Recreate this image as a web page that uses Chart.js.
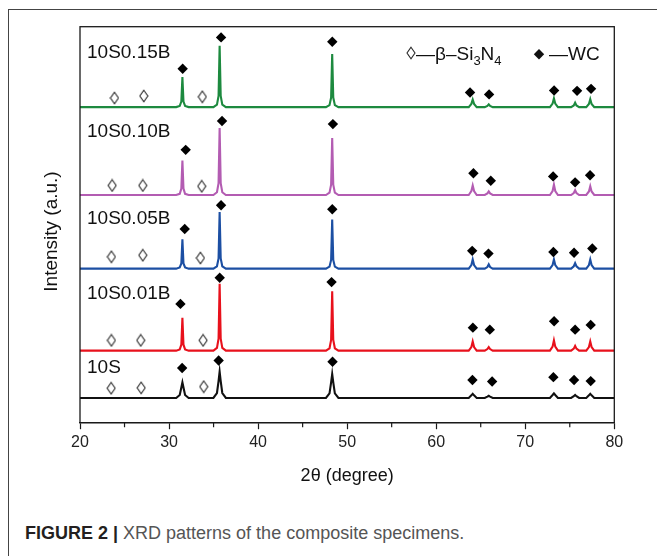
<!DOCTYPE html>
<html>
<head>
<meta charset="utf-8">
<script src="https://cdn.jsdelivr.net/npm/chart.js@4/dist/chart.umd.min.js"></script>
<style>
  html, body { margin: 0; padding: 0; background: #fff; overflow: hidden; width: 657px; height: 556px; }
  #frame { position: absolute; left: 8px; top: 9px; width: 800px; height: 700px; border: 1px solid #444; box-sizing: border-box; }
  #wrap { position: absolute; left: 0; top: 0; width: 657px; height: 500px; }
  #caption { position: absolute; left: 25px; top: 522px; font: 18px "Liberation Sans", Arial, sans-serif; line-height: 22px; color: #555; white-space: nowrap; }
  #caption b { color: #231f20; }
</style>
</head>
<body>
<div id="frame"></div>
<div id="wrap"><canvas id="c" width="657" height="500"></canvas></div>
<div id="caption"><b>FIGURE 2 |</b> XRD patterns of the composite specimens.</div>
<script>
// ---- data ----
const seriesNames = ["10S0.15B", "10S0.10B", "10S0.05B", "10S0.01B", "10S"];
const xTicks = [20, 30, 40, 50, 60, 70, 80];
const xMinorTicks = [25, 35, 45, 55, 65, 75];

// shared 2θ sampling (degree)
const twoTheta = [
  20,
  30.8, 31.2, 31.38, 31.5, 31.62, 31.8, 32.2,
  34.98, 35.38, 35.56, 35.68, 35.8, 35.98, 36.38,
  47.62, 48.02, 48.2, 48.32, 48.44, 48.62, 49.02,
  63.65, 63.95, 64.1, 64.25, 64.55,
  65.45, 65.75, 65.9, 66.05, 66.35,
  72.77, 73.07, 73.22, 73.37, 73.67,
  75.15, 75.45, 75.6, 75.75, 76.05,
  76.85, 77.15, 77.3, 77.45, 77.75,
  80
];

// intensities (a.u., stacked with offsets as drawn)
const int_10S015B = [
  79.7,
  79.7, 80.0, 81.1, 87.3, 81.1, 80.0, 79.7,
  79.7, 80.3, 82.5, 95.2, 82.5, 80.3, 79.7,
  79.7, 80.2, 82.1, 93.1, 82.1, 80.2, 79.7,
  79.7, 80.5, 81.6, 80.5, 79.7,
  79.7, 80.0, 80.4, 80.0, 79.7,
  79.7, 80.6, 81.9, 80.6, 79.7,
  79.7, 80.1, 80.8, 80.1, 79.7,
  79.7, 80.5, 81.7, 80.5, 79.7,
  79.7
];
const int_10S010B = [
  57.5,
  57.5, 57.8, 59.1, 66.2, 59.1, 57.8, 57.5,
  57.5, 58.2, 60.5, 74.4, 60.5, 58.2, 57.5,
  57.5, 58.1, 60.1, 71.9, 60.1, 58.1, 57.5,
  57.5, 58.5, 59.9, 58.5, 57.5,
  57.5, 57.9, 58.4, 57.9, 57.5,
  57.5, 58.5, 60.1, 58.5, 57.5,
  57.5, 58.0, 58.7, 58.0, 57.5,
  57.5, 58.4, 59.7, 58.4, 57.5,
  57.5
];
const int_10S005B = [
  38.9,
  38.9, 39.2, 40.2, 46.3, 40.2, 39.2, 38.9,
  38.9, 39.5, 41.5, 53.2, 41.5, 39.5, 38.9,
  38.9, 39.4, 41.1, 51.3, 41.1, 39.4, 38.9,
  38.9, 39.8, 41.2, 39.8, 38.9,
  38.9, 39.3, 40.0, 39.3, 38.9,
  38.9, 39.8, 41.2, 39.8, 38.9,
  38.9, 39.5, 40.3, 39.5, 38.9,
  38.9, 39.8, 41.2, 39.8, 38.9,
  38.9
];
const int_10S001B = [
  18.2,
  18.2, 18.5, 19.7, 26.5, 19.7, 18.5, 18.2,
  18.2, 18.9, 21.2, 35.1, 21.2, 18.9, 18.2,
  18.2, 18.8, 20.9, 33.2, 20.9, 18.8, 18.2,
  18.2, 19.1, 20.5, 19.1, 18.2,
  18.2, 18.6, 19.1, 18.6, 18.2,
  18.2, 19.2, 20.8, 19.2, 18.2,
  18.2, 18.7, 19.4, 18.7, 18.2,
  18.2, 19.1, 20.5, 19.1, 18.2,
  18.2
];
const int_10S = [
  6.25,
  6.25, 7.0, 8.9, 10.2, 8.9, 7.0, 6.25,
  6.25, 7.5, 10.5, 12.9, 10.5, 7.5, 6.25,
  6.25, 7.4, 10.2, 12.3, 10.2, 7.4, 6.25,
  6.25, 6.9, 7.3, 6.9, 6.25,
  6.25, 6.6, 6.8, 6.6, 6.25,
  6.25, 7.0, 7.4, 7.0, 6.25,
  6.25, 6.7, 7.0, 6.7, 6.25,
  6.25, 6.9, 7.3, 6.9, 6.25,
  6.25
];

// WC (◆) marker positions [2θ, level]
const wc_10S015B = [[31.53, 89.4], [35.84, 97.3], [48.33, 96.2], [63.8, 83.4], [65.94, 82.9], [73.24, 83.9], [75.82, 83.8], [77.39, 84.3]];
const wc_10S010B = [[31.87, 68.9], [35.95, 76.2], [48.4, 75.4], [64.18, 63.0], [66.13, 61.1], [73.13, 62.2], [75.6, 60.7], [77.28, 62.5]];
const wc_10S005B = [[31.76, 48.9], [35.84, 54.9], [48.33, 53.9], [64.04, 43.4], [65.87, 42.7], [73.16, 43.1], [75.48, 42.9], [77.53, 44.0]];
const wc_10S001B = [[31.28, 30.0], [35.69, 36.6], [48.25, 35.5], [64.12, 24.0], [66.02, 23.5], [73.24, 25.6], [75.6, 23.5], [77.35, 24.7]];
const wc_10S     = [[31.47, 13.8], [35.57, 15.7], [48.36, 15.4], [64.07, 10.8], [66.28, 10.4], [73.16, 11.5], [75.48, 10.8], [77.35, 10.5]];

// β-Si3N4 (◊) marker positions [2θ, level]
const si_10S015B = [[23.87, 82.0], [27.16, 82.5], [33.74, 82.3]];
const si_10S010B = [[23.61, 59.9], [27.05, 59.9], [33.67, 59.7]];
const si_10S005B = [[23.53, 41.9], [27.05, 42.3], [33.52, 41.6]];
const si_10S001B = [[23.53, 20.8], [26.82, 20.8], [33.82, 20.8]];
const si_10S     = [[23.5, 8.7], [26.87, 8.8], [33.89, 9.1]];

// ---- styling ----
const FONT = '"Liberation Sans", Arial, Helvetica, sans-serif';
const seriesColors = ["#1d8a3f", "#b35cb2", "#1c4fa3", "#e8111c", "#111111"];
const intensities = [int_10S015B, int_10S010B, int_10S005B, int_10S001B, int_10S];
const wcMarks = [wc_10S015B, wc_10S010B, wc_10S005B, wc_10S001B, wc_10S];
const siMarks = [si_10S015B, si_10S010B, si_10S005B, si_10S001B, si_10S];
const labelBaselinesPx = [57.7, 137, 224, 299, 372.7];

// open lozenge point image
const loz = document.createElement('canvas');
loz.width = 10; loz.height = 14;
(function(){
  const g = loz.getContext('2d');
  g.strokeStyle = '#2a2a2a'; g.lineWidth = 1.1;
  g.beginPath();
  g.moveTo(5, 1.2); g.lineTo(9, 7); g.lineTo(5, 12.8); g.lineTo(1, 7); g.closePath();
  g.stroke();
})();

const datasets = [];
intensities.forEach((vals, i) => {
  datasets.push({
    type: 'line',
    label: seriesNames[i],
    data: twoTheta.map((x, k) => ({ x: x, y: vals[k] })),
    borderColor: seriesColors[i],
    borderWidth: 2.1,
    pointRadius: 0,
    tension: 0,
    fill: false,
    order: 2
  });
});
wcMarks.forEach((arr) => {
  datasets.push({
    type: 'scatter',
    data: arr.map(p => ({ x: p[0], y: p[1] })),
    pointStyle: 'rectRot',
    pointRadius: 5.2,
    pointBackgroundColor: '#000',
    pointBorderColor: '#000',
    pointBorderWidth: 0,
    showLine: false,
    order: 0
  });
});
siMarks.forEach((arr) => {
  datasets.push({
    type: 'scatter',
    data: arr.map(p => ({ x: p[0], y: p[1] })),
    pointStyle: loz,
    pointRadius: 6,
    showLine: false,
    order: 0
  });
});

const decor = {
  id: 'decor',
  afterDatasetsDraw(chart) {
    const ctx = chart.ctx;
    const a = chart.chartArea;
    const xs = chart.scales.x;
    ctx.save();
    // frame
    ctx.strokeStyle = '#1a1a1a';
    ctx.lineWidth = 1.3;
    ctx.strokeRect(a.left, a.top, a.right - a.left, a.bottom - a.top);
    // minor ticks (shorter)
    ctx.lineWidth = 1.2;
    ctx.beginPath();
    xMinorTicks.forEach(v => {
      const px = xs.getPixelForValue(v);
      ctx.moveTo(px, a.bottom);
      ctx.lineTo(px, a.bottom + 4.5);
    });
    ctx.stroke();
    // series labels
    ctx.fillStyle = '#111';
    ctx.font = '19px ' + FONT;
    ctx.textAlign = 'left';
    ctx.textBaseline = 'alphabetic';
    seriesNames.forEach((n, i) => ctx.fillText(n, a.left + 7, labelBaselinesPx[i]));
    // y title
    ctx.save();
    ctx.translate(52, 231.5);
    ctx.rotate(-Math.PI / 2);
    ctx.textAlign = 'center';
    ctx.textBaseline = 'middle';
    ctx.fillText('Intensity (a.u.)', 0, 0);
    ctx.restore();
    // legend
    ctx.drawImage(loz, 406, 46);
    let x = 416;
    const base = 60;
    ctx.textBaseline = 'alphabetic';
    const put = (t, f, dy) => { ctx.font = f; ctx.fillText(t, x, base + dy); x += ctx.measureText(t).width; };
    put('\u2014\u03B2\u2013Si', '19px ' + FONT, 0);
    put('3', '13px ' + FONT, 5);
    put('N', '19px ' + FONT, 0);
    put('4', '13px ' + FONT, 5);
    ctx.beginPath();
    ctx.moveTo(539, 49); ctx.lineTo(544.2, 54.2); ctx.lineTo(539, 59.4); ctx.lineTo(533.8, 54.2); ctx.closePath();
    ctx.fill();
    ctx.font = '19px ' + FONT;
    ctx.fillText('\u2014WC', 549, base);
    ctx.restore();
  }
};

new Chart(document.getElementById('c'), {
  data: { datasets: datasets },
  options: {
    responsive: false,
    animation: false,
    devicePixelRatio: 1,
    layout: { padding: { left: 80, right: 42.7, top: 26.7, bottom: 0 } },
    plugins: { legend: { display: false }, tooltip: { enabled: false } },
    scales: {
      x: {
        type: 'linear',
        min: xTicks[0],
        max: xTicks[xTicks.length - 1],
        afterFit(s) { s.height = 77.3; },
        grid: { drawOnChartArea: false, drawTicks: true, tickLength: 6.5, color: '#1a1a1a', tickWidth: 1.2 },
        border: { display: true, color: '#1a1a1a', width: 1.3 },
        ticks: {
          stepSize: 10,
          padding: 4,
          color: '#222',
          font: { family: FONT, size: 16 },
          maxRotation: 0,
          autoSkip: false
        },
        title: { display: true, text: '2\u03B8 (degree)', color: '#111', font: { family: FONT, size: 18 }, padding: { top: 0, bottom: 13 } }
      },
      y: {
        type: 'linear',
        display: false,
        min: 0,
        max: 100
      }
    }
  },
  plugins: [decor]
});
</script>
</body>
</html>
